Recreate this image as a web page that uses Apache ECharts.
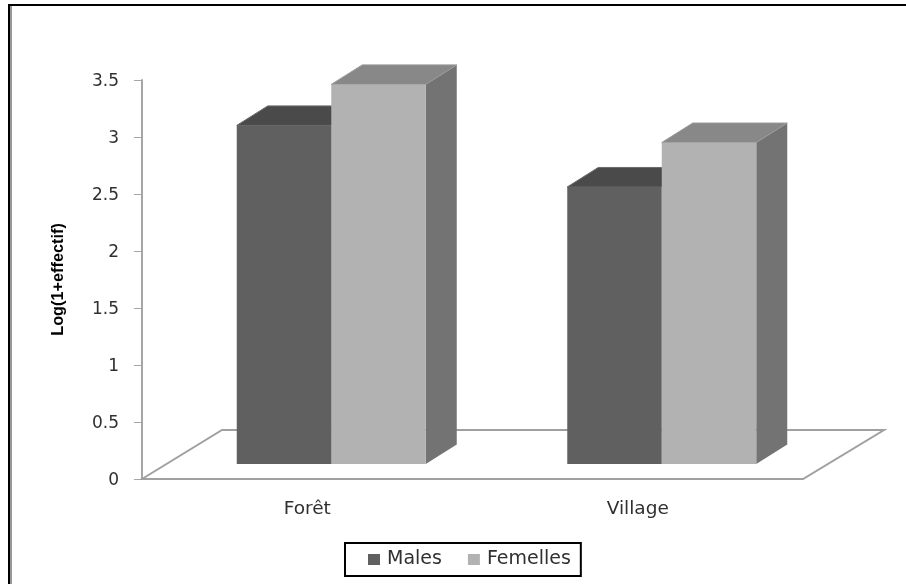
<!DOCTYPE html>
<html><head><meta charset="utf-8">
<style>html,body{margin:0;padding:0;background:#fff}#c{width:906px;height:584px}</style>
<script src="https://cdn.jsdelivr.net/npm/echarts@6/dist/echarts.min.js"></script>
</head><body><div id="c"></div>
<script>
const categories = ['Forêt', 'Village'];
const males = [2.97, 2.43];
const femelles = [3.33, 2.82];
const yTicks = { min: 0, max: 3.5, interval: 0.5 };

const chart = echarts.init(document.getElementById('c'), null, { renderer: 'canvas' });
const DX = 31, DY = 19.5, LIFT = 15, SHIFT = 24, W = 94.5;

function box(x0, x1, yTop, yBase, front, top, side, edge) {
  return { type: 'group', children: [
    { type: 'polygon', shape: { points: [[x1, yTop], [x1 + DX, yTop - DY], [x1 + DX, yBase - DY], [x1, yBase]] }, style: { fill: side } },
    { type: 'polygon', shape: { points: [[x0, yTop], [x0 + DX, yTop - DY], [x1 + DX, yTop - DY], [x1, yTop]] }, style: { fill: top, stroke: edge, lineWidth: 1 } },
    { type: 'rect', shape: { x: x0, y: yTop, width: x1 - x0, height: yBase - yTop }, style: { fill: front } }
  ]};
}
function barRender(sign, colors) {
  return function (params, api) {
    const p = api.coord([api.value(0), api.value(1)]);
    const base = api.coord([api.value(0), 0]);
    const cx = p[0] + SHIFT;
    const x0 = sign < 0 ? cx - W : cx, x1 = sign < 0 ? cx : cx + W;
    return box(x0, x1, p[1] - LIFT, base[1] - LIFT, colors[0], colors[1], colors[2], colors[3]);
  };
}
const floorRender = function (params, api) {
  const a = api.coord([0, 0]), gw = api.size([1, 0])[0] * 2;
  const x0 = a[0] - gw / 4, y = a[1];
  return { type: 'polygon', shape: { points: [[x0, y], [x0 + 80, y - 49], [x0 + gw + 81, y - 49], [x0 + gw, y]] },
    style: { fill: '#fff', stroke: '#a0a0a0', lineWidth: 2 } };
};
const font = 'DejaVu Sans';
const ink = '#303030';
chart.setOption({
  animation: false,
  backgroundColor: '#fff',
  graphic: [
    { type: 'line', z: -1, shape: { x1: 8, y1: 5, x2: 906, y2: 5 }, style: { stroke: '#000', lineWidth: 2 } },
    { type: 'line', z: -1, shape: { x1: 9, y1: 4, x2: 9, y2: 584 }, style: { stroke: '#000', lineWidth: 2 } },
    { type: 'line', z: -1, shape: { x1: 11, y1: 6, x2: 11, y2: 584 }, style: { stroke: '#999', lineWidth: 2 } }
  ],
  grid: { left: 142, top: 80, width: 661, height: 399 },
  legend: {
    left: 345, top: 543,
    padding: [7, 10, 7, 23], itemGap: 26, itemWidth: 12, itemHeight: 11,
    borderColor: '#000', borderWidth: 2, backgroundColor: '#fff',
    icon: 'rect',
    textStyle: { fontFamily: font, fontSize: 19, color: ink, padding: [0, 0, 0, 2] },
    data: ['Males', 'Femelles']
  },
  xAxis: {
    type: 'category', data: categories,
    axisLine: { show: false }, axisTick: { show: false }, splitLine: { show: false },
    axisLabel: { margin: 21, fontFamily: font, fontSize: 18.5, color: ink }
  },
  yAxis: {
    type: 'value', min: yTicks.min, max: yTicks.max, interval: yTicks.interval,
    name: 'Log(1+effectif)', nameLocation: 'middle', nameGap: 75, nameRotate: 90,
    nameTextStyle: { fontFamily: 'Liberation Sans', fontSize: 16.3, fontWeight: 'bold', color: '#000' },
    axisLine: { show: true, lineStyle: { color: '#a6a6a6', width: 2 } },
    axisTick: { show: true, length: 8, lineStyle: { color: '#a6a6a6', width: 1 } },
    splitLine: { show: false },
    axisLabel: { margin: 23, fontFamily: font, fontSize: 17, color: ink, verticalAlign: 'top', padding: [-6.5, 0, 0, 0] }
  },
  series: [
    { name: 'floor', type: 'custom', z: 1, silent: true, renderItem: floorRender, data: [[0, 0]], encode: { x: 0, y: 1 } },
    { name: 'Males', type: 'custom', z: 2, renderItem: barRender(-1, ['#606060', '#4a4a4a', '#505050', '#6a6a6a']), itemStyle: { color: '#606060' },
      data: categories.map((c, i) => [i, males[i]]), encode: { x: 0, y: 1 } },
    { name: 'Femelles', type: 'custom', z: 3, renderItem: barRender(1, ['#b2b2b2', '#888888', '#737373', '#999999']), itemStyle: { color: '#b2b2b2' },
      data: categories.map((c, i) => [i, femelles[i]]), encode: { x: 0, y: 1 } }
  ]
});
</script></body></html>
